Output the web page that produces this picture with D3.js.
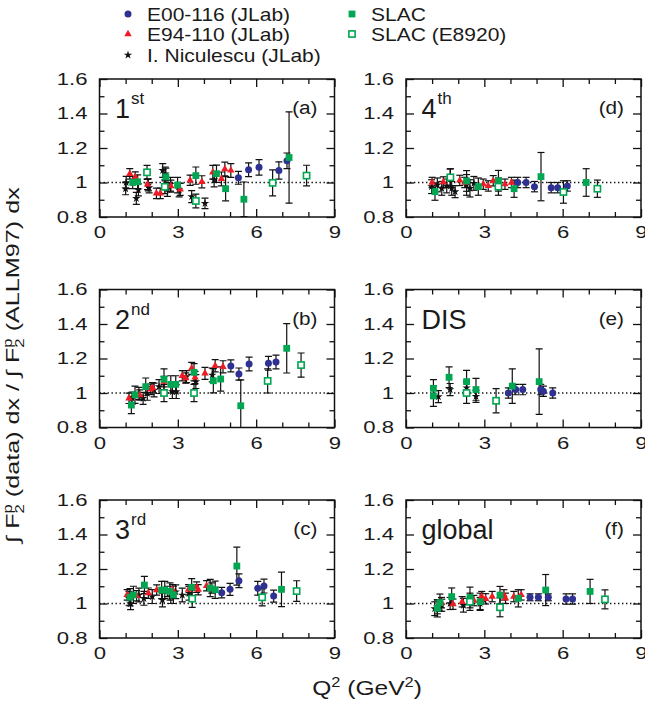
<!DOCTYPE html>
<html><head><meta charset="utf-8">
<script src="https://cdn.jsdelivr.net/npm/d3@7"></script>
<style>body{margin:0;background:#fff} svg{display:block}</style>
</head><body><svg id="c" width="645" height="702"></svg>
<script>
// ---------- DATA: [Q2, ratio, error] ----------
const xTicks = [0, 3, 6, 9];
const yTicks = [0.8, 1.0, 1.2, 1.4, 1.6];
const yTickLabels = ["0.8", "1", "1.2", "1.4", "1.6"];
const seriesNames = ["E00-116 (JLab)", "E94-110 (JLab)", "I. Niculescu (JLab)", "SLAC", "SLAC (E8920)"];
const panelLabels = ["1", "2", "3", "4", "DIS", "global"];
const panelSups = ["st", "nd", "rd", "th", "", ""];
const panelLetters = ["(a)", "(b)", "(c)", "(d)", "(e)", "(f)"];

// panel (a) 1st
const e00_a = [[5.32,1.027,0.037],[5.71,1.074,0.04],[6.11,1.088,0.045],[6.87,1.07,0.05],[7.18,1.126,0.045]];
const e94_a = [[1.16,1.05,0.03],[1.37,1.032,0.03],[1.84,0.989,0.03],[2.18,0.937,0.03],[2.33,0.937,0.03],[2.73,0.979,0.035],[3.09,0.96,0.035],[3.47,1.013,0.03],[3.92,1.004,0.035],[4.34,1.059,0.04],[4.67,1.021,0.04],[4.80,1.078,0.04],[5.03,1.07,0.04]];
const nic_a = [[1.0,0.964,0.035],[1.02,1.0,0.035],[1.41,0.908,0.035],[1.49,0.957,0.035],[1.87,0.986,0.035],[2.42,1.07,0.04],[2.52,1.05,0.04],[2.6,0.96,0.04],[2.72,0.99,0.04],[3.05,0.957,0.04],[3.53,0.918,0.035],[4.04,0.879,0.03],[4.39,1.015,0.04],[1.9,0.97,0.03]];
const slac_a = [[1.27,1.0,0.035],[1.46,1.004,0.04],[2.54,1.033,0.05],[2.99,0.985,0.045],[3.69,1.04,0.05],[4.48,1.051,0.05],[4.83,0.964,0.07],[5.53,0.903,0.1],[7.26,1.145,0.265]];
const e8920_a = [[1.82,1.059,0.04],[2.5,0.975,0.04],[3.69,0.893,0.04],[6.63,0.998,0.075],[7.93,1.04,0.06]];

// panel (b) 2nd
const e00_b = [[5.03,1.157,0.035],[5.34,1.11,0.035],[5.73,1.168,0.04],[6.47,1.172,0.04],[6.76,1.18,0.04]];
const e94_b = [[1.13,0.969,0.03],[1.54,0.988,0.03],[1.96,1.021,0.03],[2.03,1.03,0.03],[2.47,1.066,0.03],[3.17,1.1,0.03],[3.3,1.087,0.03],[3.53,1.143,0.035],[3.66,1.09,0.035],[4.04,1.114,0.035],[4.43,1.158,0.035],[4.73,1.152,0.035]];
const nic_b = [[1.25,0.97,0.035],[1.51,0.998,0.035],[1.67,0.969,0.035],[1.83,0.998,0.04],[2.09,1.017,0.04],[2.28,1.037,0.04],[2.79,1.008,0.04],[2.94,1.008,0.04],[3.33,1.095,0.035],[3.69,1.066,0.04],[4.32,1.104,0.04]];
const slac_b = [[1.22,0.93,0.05],[1.36,0.99,0.05],[1.77,1.037,0.05],[2.47,1.08,0.06],[2.73,1.05,0.05],[2.92,1.05,0.05],[3.62,1.12,0.05],[4.36,1.071,0.07],[4.64,1.081,0.07],[5.41,0.926,0.15],[7.17,1.259,0.143]];
const e8920_b = [[2.47,1.0,0.05],[3.62,1.0,0.05],[6.44,1.07,0.07],[7.72,1.162,0.07]];

// panel (c) 3rd
const e00_c = [[4.68,1.063,0.03],[5.0,1.082,0.035],[5.34,1.132,0.04],[6.06,1.088,0.04],[6.3,1.101,0.04],[6.67,1.043,0.035]];
const e94_c = [[1.06,1.05,0.03],[1.42,1.045,0.03],[1.87,1.06,0.03],[2.19,1.078,0.03],[2.6,1.07,0.03],[2.8,1.08,0.03],[3.41,1.08,0.03],[3.72,1.095,0.03],[3.78,1.08,0.03],[4.1,1.103,0.03],[4.3,1.09,0.03]];
const nic_c = [[1.13,1.03,0.04],[1.19,1.0,0.035],[1.51,1.049,0.04],[1.7,1.03,0.04],[2.02,1.04,0.04],[2.41,1.02,0.04],[2.73,1.04,0.04],[2.92,1.068,0.04],[3.17,1.049,0.04],[3.43,1.059,0.04]];
const slac_c = [[1.17,1.036,0.05],[1.3,1.05,0.05],[1.72,1.107,0.05],[2.38,1.078,0.05],[2.5,1.078,0.05],[2.7,1.07,0.05],[2.83,1.05,0.05],[3.53,1.094,0.05],[4.24,1.09,0.05],[4.43,1.08,0.05],[5.26,1.217,0.11],[6.97,1.082,0.1]];
const e8920_c = [[3.55,1.028,0.05],[6.23,1.036,0.05],[7.55,1.072,0.06]];

// panel (d) 4th
const e00_d = [[4.28,1.0,0.03],[4.6,1.0,0.03],[4.92,0.976,0.03],[5.56,0.97,0.03],[5.81,0.97,0.03],[6.18,0.98,0.03]];
const e94_d = [[1.0,1.0,0.03],[1.43,1.003,0.03],[2.06,1.012,0.03],[2.25,1.0,0.03],[2.96,0.99,0.03],[3.15,0.98,0.03],[3.34,1.01,0.03],[3.79,0.99,0.03],[4.04,1.0,0.03]];
const nic_d = [[0.98,0.976,0.04],[1.2,0.986,0.04],[1.37,0.966,0.04],[1.56,0.98,0.04],[1.75,0.966,0.04],[1.88,0.947,0.035],[2.32,0.986,0.06],[2.45,0.966,0.05],[2.6,0.995,0.04]];
const slac_d = [[1.11,0.947,0.05],[1.69,1.028,0.05],[2.32,1.009,0.06],[2.77,0.976,0.05],[3.54,1.01,0.06],[4.14,0.964,0.05],[5.17,1.034,0.14],[6.9,1.0,0.08]];
const e8920_d = [[1.7,1.03,0.05],[3.54,0.976,0.05],[6.03,0.945,0.065],[7.33,0.964,0.05]];

// panel (e) DIS
const e00_e = [[3.92,1.0,0.03],[4.2,1.02,0.03],[4.47,1.02,0.03],[5.16,1.02,0.03],[5.26,1.01,0.03],[5.62,1.0,0.03]];
const e94_e = [];
const nic_e = [[1.24,0.979,0.035],[1.69,1.02,0.035],[2.32,1.03,0.04],[2.68,0.98,0.035]];
const slac_e = [[1.05,1.027,0.05],[1.05,0.983,0.06],[1.65,1.091,0.06],[2.32,1.066,0.065],[2.68,1.02,0.065],[4.07,1.04,0.1],[5.1,1.066,0.19]];
const e8920_e = [[2.32,1.0,0.06],[3.45,0.955,0.07]];

// panel (f) global
const e00_f = [[4.75,1.036,0.02],[5.07,1.036,0.02],[5.45,1.036,0.02],[6.13,1.026,0.03],[6.38,1.026,0.03]];
const e94_f = [[1.36,1.005,0.03],[1.8,0.996,0.03],[2.15,1.01,0.03],[2.6,1.017,0.03],[2.9,1.04,0.03],[3.05,1.027,0.03],[3.3,1.04,0.03],[3.75,1.05,0.03],[3.81,1.03,0.03],[4.13,1.04,0.03],[4.41,1.05,0.03]];
const nic_f = [[1.1,0.97,0.04],[1.2,0.98,0.04],[1.37,0.99,0.035],[1.69,1.0,0.035],[2.2,0.99,0.04],[2.84,1.0,0.035]];
const slac_f = [[1.2,0.972,0.05],[1.3,1.005,0.05],[1.75,1.04,0.05],[2.45,1.035,0.06],[2.84,1.01,0.05],[3.6,1.049,0.05],[4.3,1.03,0.05],[5.35,1.078,0.09],[7.05,1.07,0.07]];
const e8920_f = [[2.45,1.01,0.05],[3.6,0.978,0.055],[7.62,1.024,0.055]];

// ---------- DRAWING ----------
const FONT = "'Liberation Sans', Arial, Helvetica, sans-serif";
const BLUE = "#2e3192", RED = "#ed1c24", GREEN = "#00a651";
const svg = d3.select("#c");
const W = 235, H = 138;
const colX = [99.5, 406], rowY = [79, 289.5, 500];
const STRETCH = 1.3;

const panels = [
  {i:0, col:0, row:0, sets:[nic_a, e94_a, e00_a, slac_a, e8920_a]},
  {i:1, col:0, row:1, sets:[nic_b, e94_b, e00_b, slac_b, e8920_b]},
  {i:2, col:0, row:2, sets:[nic_c, e94_c, e00_c, slac_c, e8920_c]},
  {i:3, col:1, row:0, sets:[nic_d, e94_d, e00_d, slac_d, e8920_d]},
  {i:4, col:1, row:1, sets:[nic_e, e94_e, e00_e, slac_e, e8920_e]},
  {i:5, col:1, row:2, sets:[nic_f, e94_f, e00_f, slac_f, e8920_f]}
];
const kinds = ["star", "tri", "circ", "sq", "osq"];

function marker(g, kind, cx, cy) {
  if (kind === "circ") {
    g.append("circle").attr("cx", cx).attr("cy", cy).attr("r", 3.5).attr("fill", BLUE);
  } else if (kind === "tri") {
    g.append("path").attr("d", d3.symbol(d3.symbolTriangle, 24)()).attr("transform", `translate(${cx},${cy})`).attr("fill", RED);
  } else if (kind === "star") {
    g.append("path").attr("d", d3.symbol(d3.symbolStar, 22)()).attr("transform", `translate(${cx},${cy})`).attr("fill", "#111");
  } else if (kind === "sq") {
    g.append("rect").attr("x", cx - 3.4).attr("y", cy - 3.4).attr("width", 6.8).attr("height", 6.8).attr("fill", GREEN);
  } else {
    g.append("rect").attr("x", cx - 3.1).attr("y", cy - 3.1).attr("width", 6.2).attr("height", 6.2).attr("fill", "#fff").attr("stroke", GREEN).attr("stroke-width", 1.6);
  }
}

function stretch(sel, f) {
  sel.each(function() {
    const l = this.getComputedTextLength();
    d3.select(this).attr("textLength", l * f).attr("lengthAdjust", "spacingAndGlyphs");
  });
}

panels.forEach(p => {
  const x0 = colX[p.col], y0 = rowY[p.row];
  const x = d3.scaleLinear().domain([0, 9]).range([x0, x0 + W]);
  const y = d3.scaleLinear().domain([0.8, 1.6]).range([y0 + H, y0]);
  const g = svg.append("g");
  const cid = "clip" + p.i;
  svg.append("clipPath").attr("id", cid).append("rect").attr("x", x0).attr("y", y0).attr("width", W).attr("height", H);

  const minorX = [1,2,4,5,7,8];
  const minorY = [0.9,1.1,1.3,1.5];
  const gb = g.append("g").attr("transform", `translate(0,${y0 + H})`)
    .call(d3.axisBottom(x).tickValues(xTicks).tickSize(-8).tickPadding(9).tickFormat(d3.format("d")));
  g.append("g").attr("transform", `translate(0,${y0 + H})`).call(d3.axisBottom(x).tickValues(minorX).tickSize(-5).tickFormat(""));
  g.append("g").attr("transform", `translate(0,${y0})`).call(d3.axisTop(x).tickValues(xTicks).tickSize(-8).tickFormat(""));
  g.append("g").attr("transform", `translate(0,${y0})`).call(d3.axisTop(x).tickValues(minorX).tickSize(-5).tickFormat(""));
  const gl = g.append("g").attr("transform", `translate(${x0},0)`)
    .call(d3.axisLeft(y).tickValues(yTicks).tickSize(-8).tickPadding(12).tickFormat((d, k) => yTickLabels[k]));
  g.append("g").attr("transform", `translate(${x0},0)`).call(d3.axisLeft(y).tickValues(minorY).tickSize(-5).tickFormat(""));
  g.append("g").attr("transform", `translate(${x0 + W},0)`).call(d3.axisRight(y).tickValues(yTicks).tickSize(-8).tickFormat(""));
  g.append("g").attr("transform", `translate(${x0 + W},0)`).call(d3.axisRight(y).tickValues(minorY).tickSize(-5).tickFormat(""));
  g.selectAll(".domain").remove();
  g.selectAll(".tick line").attr("stroke", "#111").attr("stroke-width", 1.3);
  g.selectAll(".tick text").attr("font-family", FONT).attr("font-size", 17).attr("fill", "#1a1a1a");
  stretch(gb.selectAll(".tick text"), STRETCH);
  stretch(gl.selectAll(".tick text"), STRETCH);

  g.append("line").attr("x1", x0).attr("x2", x0 + W).attr("y1", y(1)).attr("y2", y(1))
    .attr("stroke", "#111").attr("stroke-width", 1.5).attr("stroke-dasharray", "1.4,2.6");

  const dg = g.append("g").attr("clip-path", `url(#${cid})`);
  const eg = dg.append("g"), mg = dg.append("g");
  p.sets.forEach((set) => {
    set.forEach(d => {
      const cx = x(d[0]), yl = y(d[1] - d[2]), yh = y(d[1] + d[2]);
      eg.append("line").attr("x1", cx).attr("x2", cx).attr("y1", yl).attr("y2", yh).attr("stroke", "#111").attr("stroke-width", 1.2);
      [yl, yh].forEach(yy => eg.append("line").attr("x1", cx - 3.5).attr("x2", cx + 3.5).attr("y1", yy).attr("y2", yy).attr("stroke", "#111").attr("stroke-width", 1.2));
    });
  });
  p.sets.forEach((set, k) => set.forEach(d => marker(mg, kinds[k], x(d[0]), y(d[1]))));

  g.append("rect").attr("x", x0).attr("y", y0).attr("width", W).attr("height", H)
    .attr("fill", "none").attr("stroke", "#111").attr("stroke-width", 1.5);

  const t = g.append("text").attr("x", x0 + 15.5).attr("y", y0 + 39).attr("font-family", FONT).attr("font-size", 27).attr("fill", "#1a1a1a");
  t.append("tspan").text(panelLabels[p.i]);
  if (panelSups[p.i]) t.append("tspan").attr("font-size", 17).attr("dy", -14).attr("dx", 1).text(panelSups[p.i]);
  const lt = g.append("text").attr("x", x0 + W - 17).attr("y", y0 + 35).attr("text-anchor", "end")
    .attr("font-family", FONT).attr("font-size", 18).attr("fill", "#1a1a1a").text(panelLetters[p.i]);
  stretch(lt, 1.15);
});

// legend
const leg = svg.append("g").attr("font-family", FONT).attr("font-size", 17.5).attr("fill", "#1a1a1a");
const legPos = [[128, 14], [128, 34], [128, 55], [352, 14], [352, 34]];
const legKinds = ["circ", "tri", "star", "sq", "osq"];
legKinds.forEach((k, i) => {
  marker(leg, k, legPos[i][0], legPos[i][1]);
  leg.append("text").attr("transform", `translate(${legPos[i][0] + 19},${legPos[i][1] + 6.5}) scale(1.2,1)`).text(seriesNames[i]);
});

// axis titles
const xt = svg.append("text").attr("transform", "translate(367,695) scale(1.17,1)").attr("text-anchor", "middle")
  .attr("font-family", FONT).attr("font-size", 21).attr("fill", "#1a1a1a");
xt.append("tspan").text("Q");
xt.append("tspan").attr("font-size", 14).attr("dy", -8).text("2");
xt.append("tspan").attr("dy", 8).text(" (GeV");
xt.append("tspan").attr("font-size", 14).attr("dy", -8).text("2");
xt.append("tspan").attr("dy", 8).text(")");

const yt = svg.append("text").attr("transform", "translate(19,365) rotate(-90) scale(1.4,1)").attr("text-anchor", "middle")
  .attr("font-family", FONT).attr("font-size", 18).attr("fill", "#1a1a1a");
yt.append("tspan").text("\u222B F");
yt.append("tspan").attr("font-size", 12).attr("dy", 5).text("2");
yt.append("tspan").attr("font-size", 12).attr("dx", -6.7).attr("dy", -12).text("p");
yt.append("tspan").attr("dy", 7).text(" (data) dx / \u222B F");
yt.append("tspan").attr("font-size", 12).attr("dy", 5).text("2");
yt.append("tspan").attr("font-size", 12).attr("dx", -6.7).attr("dy", -12).text("p");
yt.append("tspan").attr("dy", 7).text(" (ALLM97) dx");
</script></body></html>
